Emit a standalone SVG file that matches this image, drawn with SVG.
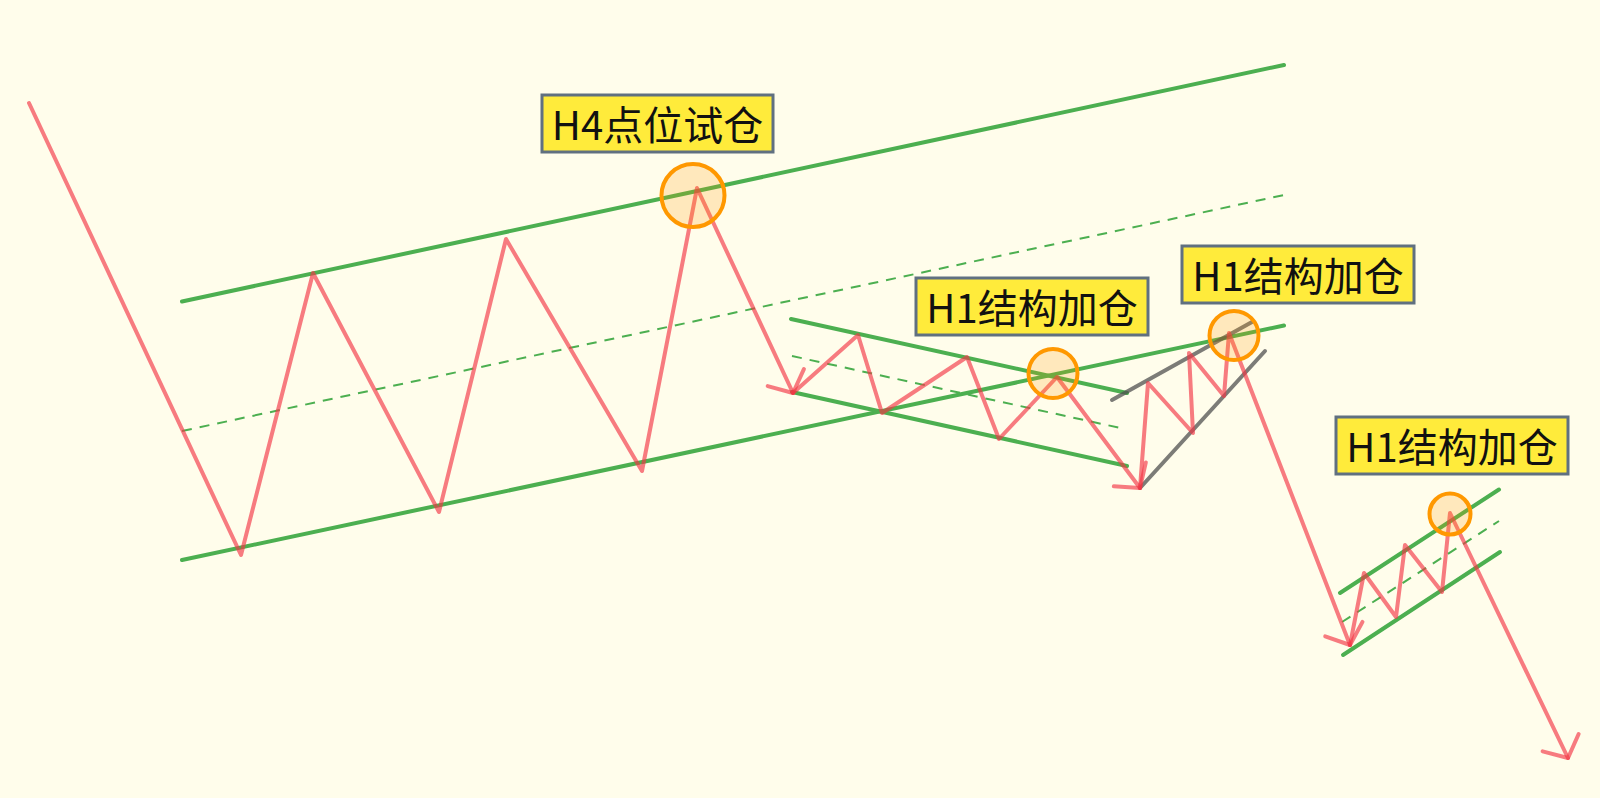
<svg xmlns="http://www.w3.org/2000/svg" width="1600" height="798" viewBox="0 0 1600 798">
<defs>
<style>
.g{fill:none;stroke:#4CAF50;stroke-width:4;stroke-linecap:round}
.gd{fill:none;stroke:#4CAF50;stroke-width:2;stroke-dasharray:10 8}
.gr{fill:none;stroke:#505050;stroke-opacity:0.75;stroke-width:4;stroke-linecap:round}
.r{fill:none;stroke:#F23645;stroke-opacity:0.65;stroke-width:4;stroke-linejoin:round;stroke-linecap:round}
.c{fill:#FF9800;fill-opacity:0.2;stroke:#FF9800;stroke-width:4}
.box{fill:#FFEB3B;stroke:#607080;stroke-width:3}
.t{font-family:'Noto Sans CJK SC','Noto Sans',sans-serif;font-size:40px;fill:#111;text-anchor:middle}
</style>
<marker id="ah" markerUnits="userSpaceOnUse" markerWidth="40" markerHeight="50" refX="0" refY="0" viewBox="-20 -25 40 50" orient="auto" overflow="visible">
<path d="M -17 -20 L 0 0 L -17 20" fill="none" stroke="#F23645" stroke-opacity="0.65" stroke-width="4" stroke-linecap="round" stroke-linejoin="round"/>
</marker>
</defs>
<rect width="1600" height="798" fill="#FFFDEB"/>
<g id="connectors">
<g id="channels">
<line class="g" x1="182" y1="301.5" x2="1284" y2="65"/>
<line class="g" x1="182" y1="560" x2="1284" y2="325.5"/>
<line class="gd" x1="182" y1="431" x2="1284" y2="195"/>
<line class="g" x1="791" y1="319" x2="1127" y2="393"/>
<line class="g" x1="792" y1="392" x2="1127" y2="466"/>
<line class="gd" x1="792" y1="356" x2="1125" y2="429"/>
<line class="g" x1="1340" y1="593" x2="1499" y2="489.5"/>
<line class="g" x1="1343" y1="655" x2="1500" y2="552"/>
<line class="gd" x1="1342" y1="622" x2="1499" y2="521"/>
<line class="gr" x1="1112" y1="400" x2="1252" y2="322"/>
<line class="gr" x1="1140" y1="488" x2="1265" y2="351"/>
</g>
<g id="price">
<polyline class="r" marker-end="url(#ah)" points="29,103 241,555 313,273 439,512 506,239 642,471 697,188 793,393"/>
<polyline class="r" marker-end="url(#ah)" points="793,393 858,335 882,413 967,357 999,439 1057,377 1140,488"/>
<polyline class="r" marker-end="url(#ah)" points="1140,488 1148,383 1193,433 1189,353 1224,396 1229,333 1350,645"/>
<polyline class="r" marker-end="url(#ah)" points="1350,645 1364,573 1396,617 1405,545 1442,592 1450,513 1568,758"/>
</g>
</g>
<g id="circles">
<circle id="c1" class="c" cx="693" cy="195.5" r="31.5"/>
<circle id="c2" class="c" cx="1053" cy="373.5" r="24.5"/>
<circle id="c3" class="c" cx="1234" cy="335.5" r="24.5"/>
<circle id="c4" class="c" cx="1450" cy="514" r="20.5"/>
</g>
<g id="label1"><rect class="box" x="542" y="95" width="231" height="57"/><text class="t" x="657.5" y="140">H4点位试仓</text></g>
<g id="label2"><rect class="box" x="916" y="278" width="232" height="57"/><text class="t" x="1032" y="323">H1结构加仓</text></g>
<g id="label3"><rect class="box" x="1182" y="246" width="232" height="57"/><text class="t" x="1298" y="291">H1结构加仓</text></g>
<g id="label4"><rect class="box" x="1336" y="417" width="232" height="57"/><text class="t" x="1452" y="462">H1结构加仓</text></g>
</svg>
